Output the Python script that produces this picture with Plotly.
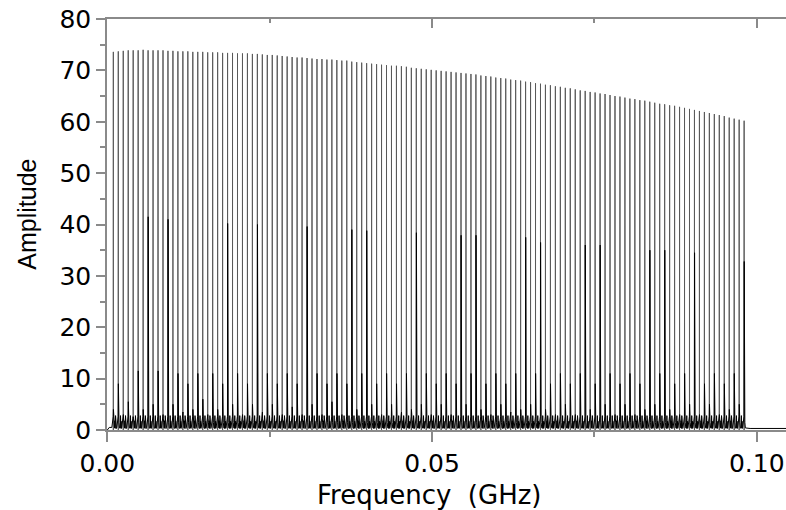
import plotly.graph_objects as go

# ---- data ----
COMB_START_GHZ = 0.000924      # first comb line
COMB_STEP_GHZ = 0.0007648      # spacing of comb lines

main_amplitude = [
    73.6, 73.7, 73.8, 73.9, 73.9, 73.9, 74.0, 73.9, 73.9, 73.9,
    73.9, 73.8, 73.8, 73.7, 73.7, 73.7, 73.6, 73.6, 73.6, 73.5,
    73.5, 73.5, 73.4, 73.4, 73.4, 73.3, 73.3, 73.3, 73.2, 73.2,
    73.1, 73.0, 73.0, 72.9, 72.8, 72.7, 72.6, 72.5, 72.5, 72.4,
    72.3, 72.2, 72.2, 72.1, 72.1, 72.0, 71.9, 71.9, 71.7, 71.6,
    71.5, 71.4, 71.3, 71.2, 71.1, 71.0, 70.9, 70.9, 70.8, 70.7,
    70.5, 70.4, 70.3, 70.2, 70.1, 70.0, 69.9, 69.8, 69.7, 69.6,
    69.5, 69.4, 69.3, 69.2, 69.0, 68.9, 68.8, 68.6, 68.5, 68.4,
    68.2, 68.1, 68.0, 67.8, 67.7, 67.5, 67.4, 67.2, 67.1, 66.9,
    66.8, 66.6, 66.5, 66.3, 66.1, 66.0, 65.8, 65.7, 65.5, 65.4,
    65.2, 65.0, 64.9, 64.7, 64.5, 64.4, 64.2, 64.1, 63.9, 63.7,
    63.5, 63.4, 63.2, 63.1, 62.9, 62.7, 62.5, 62.3, 62.1, 61.9,
    61.7, 61.5, 61.3, 61.1, 60.8, 60.6, 60.4, 60.2,
]

side_amplitude = [
    4.0, 9.0, 3.0, 5.5, 2.5, 11.5, 4.0, 41.5, 5.0, 11.5,
    3.0, 41.0, 5.0, 11.0, 3.5, 9.0, 4.0, 11.0, 6.0, 3.0,
    11.0, 4.0, 9.0, 40.2, 5.0, 11.0, 3.0, 9.0, 5.0, 40.0,
    3.5, 11.0, 5.0, 9.0, 3.0, 11.0, 4.5, 9.0, 3.0, 39.6,
    5.0, 11.0, 3.0, 9.0, 5.5, 11.0, 3.0, 9.0, 39.0, 4.0,
    11.0, 38.8, 5.0, 9.0, 3.0, 11.0, 5.0, 9.0, 3.5, 11.0,
    4.0, 38.4, 5.0, 11.0, 3.0, 9.0, 5.0, 11.0, 3.0, 9.0,
    37.9, 5.0, 11.0, 37.9, 4.0, 9.0, 3.0, 11.0, 5.0, 9.0,
    3.5, 11.0, 4.0, 37.5, 5.0, 11.0, 36.5, 4.0, 9.0, 3.0,
    11.0, 5.0, 9.0, 3.0, 11.0, 36.0, 4.0, 9.0, 36.0, 5.0,
    11.0, 3.0, 9.0, 5.0, 11.0, 3.0, 9.0, 4.0, 35.0, 5.0,
    11.0, 35.0, 4.0, 9.0, 3.0, 11.0, 5.0, 34.5, 3.0, 9.0,
    5.0, 11.0, 3.0, 9.0, 4.0, 11.0, 5.0, 32.8,
]

floor_ripple = [1.8, 0.3, 2.8, 0.4, 1.7, 0.3]   # fine structure between comb lines
tail_level = 0.3

x_ticks = [0.0, 0.05, 0.10]
x_ticktext = ["0.00", "0.05", "0.10"]
y_ticks = [0, 10, 20, 30, 40, 50, 60, 70, 80]

# ---- build the traces ----
s = COMB_STEP_GHZ
n = len(main_amplitude)

# tall comb lines (thin)
tx, ty = [], []
for i in range(n):
    f = COMB_START_GHZ + i * s
    tx += [f - 0.01 * s, f, f + 0.01 * s, None]
    ty += [0.0, main_amplitude[i], 0.0, None]

# low structure: side peaks + floor ripple (dark)
shape_off = [-0.30, -0.12, -0.02, 0.02, 0.06, 0.14, 0.25]
ripple_off = [0.32, 0.38, 0.45, 0.52, 0.58, 0.64]
lx = [0.0, 0.0003]
ly = [0.0, 0.5]
for i in range(n):
    f = COMB_START_GHZ + i * s
    vals = [0.5, 1.7, 2.6, side_amplitude[i], 2.3, 1.5, 0.4]
    for o, v in zip(shape_off, vals):
        lx.append(f + o * s)
        ly.append(v)
    if i < n - 1:
        for o, v in zip(ripple_off, floor_ripple):
            lx.append(f + o * s)
            ly.append(v)
f_last = COMB_START_GHZ + (n - 1) * s
lx += [f_last + 0.6 * s, f_last + 1.2 * s, 0.1046]
ly += [0.35, tail_level, tail_level]

AX = "#8a8a8a"
FONT = "Liberation Sans, Arial, sans-serif"
WIDE = "DejaVu Sans, Liberation Sans, sans-serif"

fig = go.Figure()
fig.add_trace(go.Scatter(x=tx, y=ty, mode="lines", connectgaps=False,
                         line=dict(color="#5a5a5a", width=1),
                         hoverinfo="skip", showlegend=False))
fig.add_trace(go.Scatter(x=lx, y=ly, mode="lines",
                         line=dict(color="#000000", width=1),
                         hoverinfo="skip", showlegend=False))
fig.add_trace(go.Scatter(x=[0.0], y=[0.0], xaxis="x2", mode="markers",
                         marker=dict(opacity=0), showlegend=False, hoverinfo="skip"))

xrange = [-0.00005, 0.1045]
fig.update_layout(
    width=786, height=510,
    margin=dict(l=107, r=0, t=19, b=80),
    paper_bgcolor="white", plot_bgcolor="white",
    font=dict(family=FONT, color="black", size=25),
    xaxis=dict(range=xrange, tickmode="array", tickvals=x_ticks, ticktext=x_ticktext,
               ticks="outside", ticklen=10, tickwidth=1.5, tickcolor=AX, automargin=False,
               ticklabeloverflow="allow",
               showline=True, linecolor=AX, linewidth=1.5, showgrid=False, zeroline=False,
               tickfont=dict(size=25, family=WIDE),
               minor=dict(tickvals=[0.025, 0.075], ticks="outside", ticklen=5,
                          tickwidth=1.5, tickcolor=AX, showgrid=False)),
    xaxis2=dict(range=xrange, overlaying="x", side="top", tickmode="array", tickvals=x_ticks,
                ticks="inside", ticklen=9, tickwidth=1.5, tickcolor=AX, showticklabels=False,
                showline=True, linecolor=AX, linewidth=1.5, showgrid=False, zeroline=False,
                automargin=False,
                minor=dict(tickvals=[0.025, 0.075], ticks="inside", ticklen=4,
                           tickwidth=1.5, tickcolor=AX, showgrid=False)),
    yaxis=dict(range=[0, 80], tickmode="array", tickvals=y_ticks, automargin=False,
               ticklabeloverflow="allow",
               ticks="outside", ticklen=9, tickwidth=1.5, tickcolor=AX,
               showline=True, linecolor=AX, linewidth=1.5, showgrid=False, zeroline=False,
               tickfont=dict(size=25, family=WIDE),
               minor=dict(tickvals=[5, 15, 25, 35, 45, 55, 65, 75], ticks="outside", ticklen=5,
                          tickwidth=1.5, tickcolor=AX, showgrid=False)),
    annotations=[
        dict(text="Frequency\u00a0\u00a0(GHz)", xref="paper", yref="paper", x=0.474, y=-0.158,
             xanchor="center", yanchor="middle", showarrow=False,
             font=dict(size=26, family=WIDE)),
        dict(text="Amplitude", xref="paper", yref="paper", x=-0.118, y=0.526,
             xanchor="center", yanchor="middle", showarrow=False, textangle=-90,
             font=dict(size=25, family=FONT)),
    ],
)

# remove the page's default 8px body margin so the figure fills the window exactly
fig.write_html("out.html", config={"displayModeBar": False},
               post_script="document.body.style.margin='0px';")
